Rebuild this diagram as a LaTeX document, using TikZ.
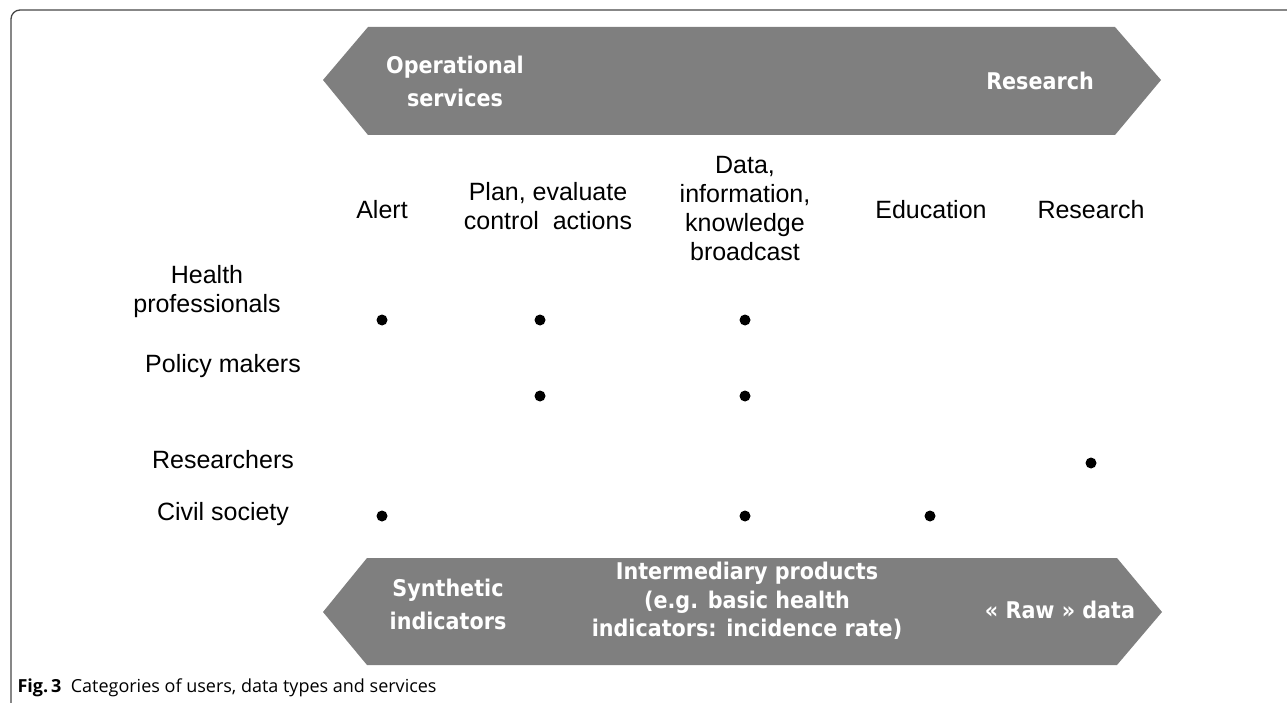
\documentclass[tikz,border=0pt]{standalone}
\usepackage{fontspec}
\setmainfont{Liberation Sans}
\newfontfamily\bandfont[FakeStretch=0.9]{DejaVu Sans}
\newfontfamily\capfont{Open Sans}
\usetikzlibrary{positioning}

\definecolor{bandgray}{RGB}{127,127,127}
\definecolor{framegray}{RGB}{70,70,70}

\tikzset{
  band/.style={fill=bandgray},
  bandtext/.style={text=white, align=center, font=\bandfont\bfseries\fontsize{23}{33}\selectfont},
  head/.style={align=center, font=\fontsize{25}{29}\selectfont},
  dot/.style={circle, fill=black, inner sep=0pt, minimum size=11pt}
}

\begin{document}
\begin{tikzpicture}[x=1pt, y=-1pt]
  \useasboundingbox (0,0) rectangle (1287,703);

  % frame
  \draw [framegray, line width=1.3pt, rounded corners=9pt] (11,703) -- (11,10) -- (1287,10);

  % upper band
  \fill [band] (323,80) -- (368,27) -- (1115,27) -- (1161,80) -- (1115,135) -- (368,135) -- cycle;
  \node[bandtext] (ops) at (455,81) {Operational\\services};
  \node[bandtext] (res) at (1040,81) {Research};

  % services
  \node[head] (alert) at (382,210) {Alert};
  \node[head] (plan) at (548,206) {Plan, evaluate\\control\ \ actions};
  \node[head] (data) at (745,209) {Data,\\information,\\knowledge\\broadcast};
  \node[head] (edu) at (931,210) {Education};
  \node[head] (rsch) at (1091,210) {Research};

  % users
  \node[head] (health) at (207,292) {Health\\professionals};
  \node[head] (policy) at (223,366) {Policy makers};
  \node[head] (resrs) at (223,460) {Researchers};
  \node[head] (civil) at (223,514) {Civil society};

  \node[dot] (d11) at (382,320) {};
  \node[dot] (d12) at (540,320) {};
  \node[dot] (d13) at (745,320) {};
  \node[dot] (d22) at (540,396) {};
  \node[dot] (d23) at (745,396) {};
  \node[dot] (d35) at (1091,463) {};
  \node[dot] (d41) at (382,516) {};
  \node[dot] (d43) at (745,516) {};
  \node[dot] (d44) at (930,516) {};

  % lower band
  \fill [band] (323,612) -- (367,558) -- (1117,558) -- (1162,612) -- (1117,665) -- (367,665) -- cycle;
  \node[bandtext] (synth) at (448,604) {Synthetic\\indicators};
  \node[bandtext, font=\bandfont\bfseries\fontsize{23}{28.5}\selectfont] (inter) at (747,601) {Intermediary products\\(e.g. basic health\\indicators: incidence rate)};
  \node[bandtext] (raw) at (1060,610) {« Raw » data};

  % caption
  \node[anchor=base west, font=\capfont\fontsize{18}{21}\selectfont] (cap) at (14,692) {\textbf{Fig.\,3}\ \ Categories of users, data types and services};
\end{tikzpicture}
\end{document}
